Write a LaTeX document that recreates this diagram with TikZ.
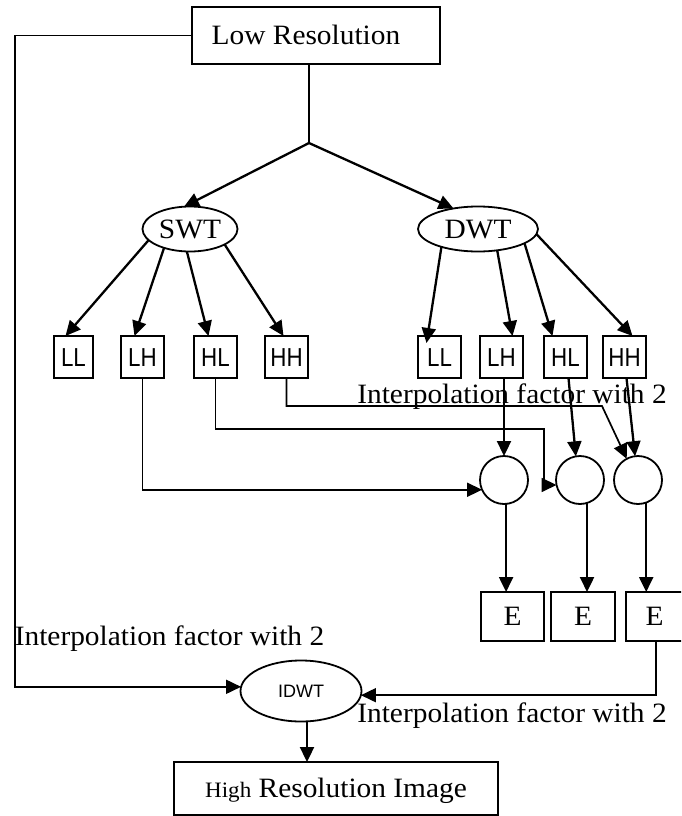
\documentclass[tikz,border=0pt]{standalone}
\usepackage{fontspec}
\newfontfamily\serifA[FakeStretch=1.05]{Liberation Serif}
\newfontfamily\sansA[FakeStretch=0.86]{Liberation Sans}
\newfontfamily\sansB{Liberation Sans}
\usetikzlibrary{arrows.meta,shapes.geometric,calc}

\tikzset{
  every node/.style={inner sep=0pt, outer sep=0pt},
  serif/.style={font=\serifA\fontsize{28}{33}\selectfont, text height=18.5pt, text depth=0pt},
  bigbox/.style={draw, line width=1.8pt, rectangle, serif},
  band/.style={draw, line width=1.8pt, rectangle, minimum width=43pt, minimum height=42pt,
    font=\sansA\fontsize{26}{30}\selectfont, text height=18.6pt, text depth=0pt},
  ebox/.style={draw, line width=1.8pt, rectangle, minimum height=49pt, serif},
  oval/.style={draw, line width=1.8pt, ellipse},
  summer/.style={draw, line width=1.8pt, circle, minimum size=48pt},
  note/.style={font=\serifA\fontsize{28}{33}\selectfont, anchor=base},
  arrow/.style={line width=2.3pt, -{Triangle[length=15pt,width=14pt]}},
  route/.style={line width=1.7pt, -{Triangle[length=15pt,width=14pt]}},
  thinln/.style={line width=1.5pt}
}

\begin{document}
\begin{tikzpicture}[x=1pt,y=-1pt]
\useasboundingbox (0,0) rectangle (681,816);
\fill[white] (0,0) rectangle (681,816);
\clip (0,0) rectangle (681,816);

% input and transforms
\node[bigbox, minimum width=248pt, minimum height=57pt] (lowres) at (316,35.5) {\hspace*{-20pt}Low Resolution};
\node[oval, serif, minimum width=95pt, minimum height=45pt] (swt) at (190,229) {SWT};
\node[oval, serif, minimum width=120pt, minimum height=45pt] (dwt) at (478,229) {DWT};

% sub-bands
\node[band, minimum width=39pt] (sLL) at (73.5,357) {LL};
\node[band] (sLH) at (142.5,357) {LH};
\node[band] (sHL) at (215.5,357) {HL};
\node[band] (sHH) at (286.5,357) {HH};
\node[band] (dLL) at (439.5,357) {LL};
\node[band] (dLH) at (501.5,357) {LH};
\node[band] (dHL) at (565.5,357) {HL};
\node[band] (dHH) at (624.5,357) {HH};

% combination nodes and estimates
\node[summer] (c1) at (504,480) {};
\node[summer] (c2) at (580,480) {};
\node[summer] (c3) at (638,480) {};
\node[ebox, minimum width=63pt] (E1) at (512.5,616.5) {E};
\node[ebox, minimum width=64pt] (E2) at (583,616.5) {E};
\node[ebox, minimum width=57pt] (E3) at (654.5,616.5) {E};

% reconstruction
\node[oval, font=\sansB\fontsize{18}{22}\selectfont, minimum width=121pt, minimum height=61pt] (idwt) at (301,691) {IDWT};
\node[bigbox, minimum width=324pt, minimum height=53pt] (high) at (336,788.5) {{\fontsize{22}{26}\selectfont High} Resolution Image};

% labels
\node[note] (lblA) at (512,403) {Interpolation factor with 2};
\node[note] (lblB) at (169.5,645) {Interpolation factor with 2};
\node[note] (lblC) at (512,722) {Interpolation factor with 2};

% split of the input
\coordinate (j) at (309,143);
\draw[thinln] (j |- lowres.south) -- (j);
\draw[arrow] (j) -- (swt.105);
\draw[arrow] (j) -- (dwt.140);

% SWT outputs
\draw[arrow] (swt.195) -- ([xshift=-8pt]sLL.north);
\draw[arrow] (swt.216) -- ([xshift=-8pt]sLH.north);
\draw[arrow] (swt.262) -- ([xshift=-7pt]sHL.north);
\draw[arrow] (swt.336) -- ([xshift=-3pt]sHH.north);

% DWT outputs
\draw[arrow] (dwt.206) -- ([xshift=-13pt,yshift=-7pt]dLL.north);
\draw[arrow] (dwt.312) -- ([xshift=11pt]dLH.north);
\draw[arrow] (dwt.343) -- ([xshift=-13pt]dHL.north);
\draw[arrow] (dwt.355) -- ([xshift=8pt]dHH.north);

% SWT bands routed to the combination nodes
\coordinate (hlturn) at (544,429);
\coordinate (hhturn) at (602,406);
\draw[route] (sLH.south) |- (c1.204);
\draw[route] (sHL.south) |- (hlturn) |- (c2.192);
\draw[route] (sHH.south) |- (hhturn) -- (c3.118);

% DWT bands into the combination nodes
\draw[arrow] (c1.north |- dLH.south) -- (c1.north);
\draw[arrow] ([xshift=3pt]dHL.south) -- (c2.100);
\draw[arrow] ([xshift=2pt]dHH.south) -- (c3.97);

% combination nodes to estimates
\draw[arrow] (c1.275) -- (c1.275 |- E1.north);
\draw[arrow] (c2.287) -- (c2.287 |- E2.north);
\draw[arrow] (c3.290) -- (c3.290 |- E3.north);

% into the inverse transform
\coordinate (lc) at (15,400);
\draw[route] (lowres.west) -| (lc) |- (idwt.176);
\draw[route] ([xshift=1.5pt]E3.south) |- (idwt.356);
\coordinate (ib) at ([xshift=6pt]idwt.south);
\draw[arrow] (ib) -- (ib |- high.north);
\end{tikzpicture}
\end{document}
